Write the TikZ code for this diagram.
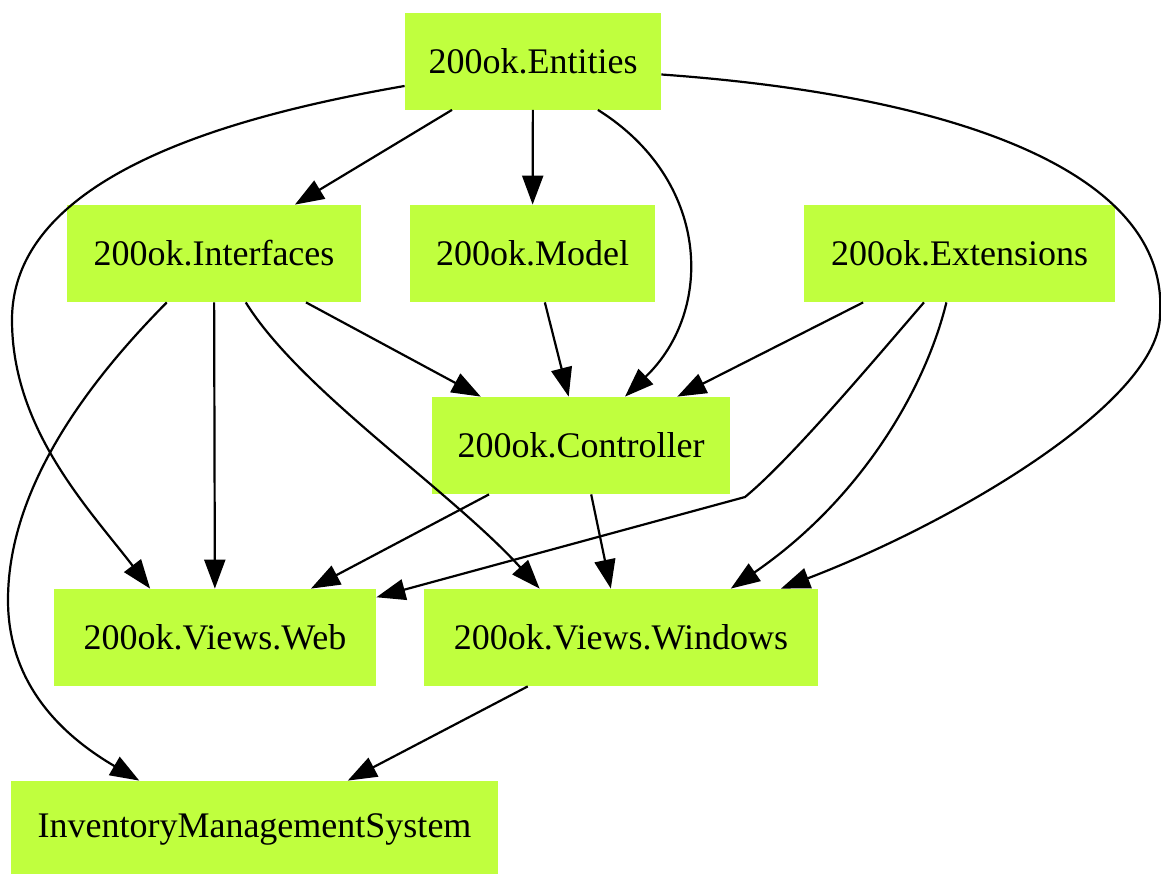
\documentclass[tikz,border=0pt]{standalone}
\usepackage{fontspec}
\setmainfont{Liberation Serif}
\usetikzlibrary{arrows.meta}
\definecolor{olivedrab1}{HTML}{C0FF3E}
\tikzset{
  module/.style={fill=olivedrab1, inner sep=0pt, minimum height=48.5pt,
    font=\fontsize{18}{20}\selectfont},
  dep/.style={-{Triangle[length=14.5pt,width=10.5pt]}, line width=1.1pt},
}
\begin{document}
\begin{tikzpicture}[x=0.5pt, y=-0.5pt]
  \useasboundingbox (0,0) rectangle (1161,873);
  % modules
  \node[module, minimum width=128pt]   (ent) at (533,61)      {200ok.Entities};
  \node[module, minimum width=147pt]   (int) at (214,253.5)   {200ok.Interfaces};
  \node[module, minimum width=122.5pt] (mod) at (532.5,253.5) {200ok.Model};
  \node[module, minimum width=155.5pt] (ext) at (959.5,253.5) {200ok.Extensions};
  \node[module, minimum width=149pt]   (ctl) at (581,445.5)   {200ok.Controller};
  \node[module, minimum width=161pt]   (web) at (215,637.5)   {200ok.Views.Web};
  \node[module, minimum width=197pt]   (win) at (621,637.5)   {200ok.Views.Windows};
  \node[module, minimum width=243.5pt] (ims) at (254.5,829.5) {InventoryManagementSystem};
  % straight dependencies
  \foreach \a/\b in {ent/int, ent/mod, int/web, mod/ctl, ext/ctl, ctl/win, win/ims}
    \draw[dep] (\a) -- (\b);
  \draw[dep] (int.-28) -- (ctl.154);
  \draw[dep] (ctl.208) -- (web.27);
  % curved dependencies
  \draw[dep] (ent.-37) .. controls (710,180) and (715,310) .. (ctl.48);
  \draw[dep] (ent.191) .. controls (250,113) and (12,170) .. (12,320)
                       .. controls (12,430) and (90,510) .. (web.143);
  \draw[dep] (ent.-6) .. controls (950,95) and (1170,170) .. (1160,315)
                      .. controls (1160,400) and (960,520) .. (win.17.5);
  \draw[dep] (int.-57) .. controls (300,390) and (450,490) .. (win.149);
  \draw[dep] (int.226.5) .. controls (100,370) and (8,480) .. (8,600)
                         .. controls (8,690) and (70,740) .. (ims.157.4);
  \draw[dep] (ext.234.6) .. controls (870,365) and (790,460) .. (745,497)
                         -- (web.14.8);
  \draw[dep] (ext.255.5) .. controls (925,390) and (860,500) .. (win.24);
\end{tikzpicture}
\end{document}
